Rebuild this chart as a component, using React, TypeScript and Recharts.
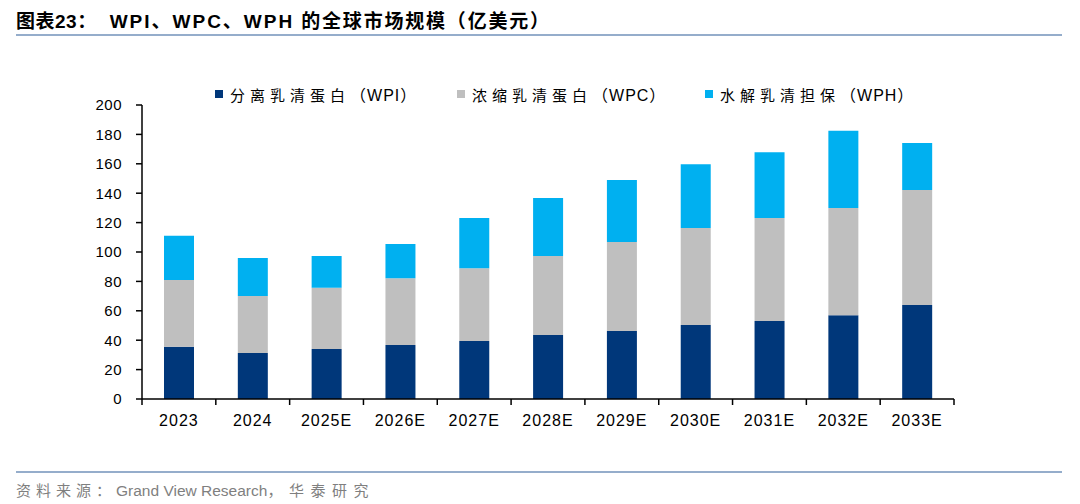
import React from 'react';
import { BarChart, Bar, XAxis, YAxis } from 'recharts';

const categories = ['2023', '2024', '2025E', '2026E', '2027E', '2028E', '2029E', '2030E', '2031E', '2032E', '2033E'];
const wpiValues = [35.5, 31.3, 34, 36.8, 39.5, 43.5, 46.3, 50.3, 53, 57, 64];
const wpcValues = [45.5, 38.8, 41.6, 45.4, 49.5, 53.8, 60.5, 66, 70.1, 72.9, 78.1];
const wphValues = [30, 25.9, 21.7, 23.2, 34.1, 39.4, 42.1, 43.4, 44.8, 52.5, 32.1];
const yTicks = [0, 20, 40, 60, 80, 100, 120, 140, 160, 180, 200];
const seriesKeys = ['wpi', 'wpc', 'wph'];
const seriesCn = ['分离乳清蛋白', '浓缩乳清蛋白', '水解乳清担保'];
const seriesAbbr = ['WPI', 'WPC', 'WPH'];
const seriesColors = ['#00377A', '#BFBFBF', '#00B0F0'];
const titleLead = '图表23：';
const titleLatin = 'WPI、WPC、WPH';
const titleCn = ' 的全球市场规模（亿美元）';
const sourceLead = '资料来源：';
const sourceOrg = 'Grand View Research';
const sourceTail = '，华泰研究';

const data = categories.map((c, i) => ({
  name: c,
  wpi: wpiValues[i],
  wpc: wpcValues[i],
  wph: wphValues[i],
}));

const FONT = '"Liberation Sans", Arial, "Noto Sans CJK SC", sans-serif';

const legendX = [215, 457, 705];

const CategoryTick = (props: any) => {
  const { x, y, payload, index } = props;
  const half = payload && payload.offset ? payload.offset : 0;
  const axisY = y - 16;
  return (
    <g>
      <line x1={x - half} x2={x - half} y1={axisY} y2={axisY + 6} stroke="#000" strokeWidth={1.5} />
      {index === categories.length - 1 ? (
        <line x1={x + half} x2={x + half} y1={axisY} y2={axisY + 6} stroke="#000" strokeWidth={1.5} />
      ) : null}
      <text x={x} y={y} dy="0.71em" textAnchor="middle" fontSize={16} fill="#000" letterSpacing={1} fontFamily={FONT}>
        {payload.value}
      </text>
    </g>
  );
};

export default function App() {
  return (
    <div
      style={{
        position: 'absolute',
        left: 0,
        top: 0,
        width: 1080,
        height: 504,
        background: '#fff',
        fontFamily: FONT,
        overflow: 'hidden',
      }}
    >
      <div
        style={{
          position: 'absolute',
          left: 16,
          top: 6,
          fontSize: 19,
          fontWeight: 'bold',
          color: '#000',
          whiteSpace: 'nowrap',
        }}
      >
        <span style={{ letterSpacing: 0.5 }}>{titleLead}</span>
        <span style={{ letterSpacing: 2, marginLeft: 13 }}>{titleLatin}</span>
        <span style={{ letterSpacing: 1.8 }}>{titleCn}</span>
      </div>
      <div style={{ position: 'absolute', left: 16, top: 34, width: 1046, height: 2, background: '#95ADCB' }} />

      {seriesCn.map((n, i) => (
        <div
          key={n}
          style={{
            position: 'absolute',
            left: legendX[i],
            top: 84,
            height: 20,
            display: 'flex',
            alignItems: 'center',
            whiteSpace: 'nowrap',
            color: '#000',
          }}
        >
          <div style={{ width: 8, height: 8, background: seriesColors[i], marginRight: 7 }} />
          <span style={{ fontSize: 15, letterSpacing: 5 }}>{n}</span>
          <span style={{ fontSize: 16, letterSpacing: 1 }}>（{seriesAbbr[i]}）</span>
        </div>
      ))}

      <div style={{ position: 'absolute', left: 0, top: 0 }}>
        <BarChart
          width={1080}
          height={504}
          data={data}
          margin={{ top: 105, right: 126, bottom: 75, left: 0 }}
        >
          <XAxis
            dataKey="name"
            stroke="#000"
            strokeWidth={1.5}
            tickLine={false}
            tickSize={0}
            tickMargin={16}
            height={30}
            interval={0}
            tick={<CategoryTick />}
          />
          <YAxis
            domain={[0, 200]}
            ticks={yTicks}
            width={142}
            interval={0}
            tickSize={6}
            tickMargin={14}
            stroke="#000"
            strokeWidth={1.5}
            tick={{ fontSize: 15, fill: '#000', letterSpacing: 0.5, fontFamily: FONT }}
          />
          {seriesKeys.map((k, i) => (
            <Bar
              key={k}
              dataKey={k}
              name={seriesCn[i] + '（' + seriesAbbr[i] + '）'}
              stackId="a"
              fill={seriesColors[i]}
              barSize={30}
              isAnimationActive={false}
            />
          ))}
        </BarChart>
      </div>

      <div style={{ position: 'absolute', left: 16, top: 471, width: 1046, height: 2, background: '#95ADCB' }} />
      <div
        style={{
          position: 'absolute',
          left: 16,
          top: 479,
          fontSize: 15,
          color: '#7F7F7F',
          whiteSpace: 'nowrap',
        }}
      >
        <span style={{ letterSpacing: 5 }}>{sourceLead}</span>
        <span style={{ fontSize: 15.5 }}>{sourceOrg}</span>
        <span style={{ letterSpacing: 6.5 }}>{sourceTail}</span>
      </div>
    </div>
  );
}
